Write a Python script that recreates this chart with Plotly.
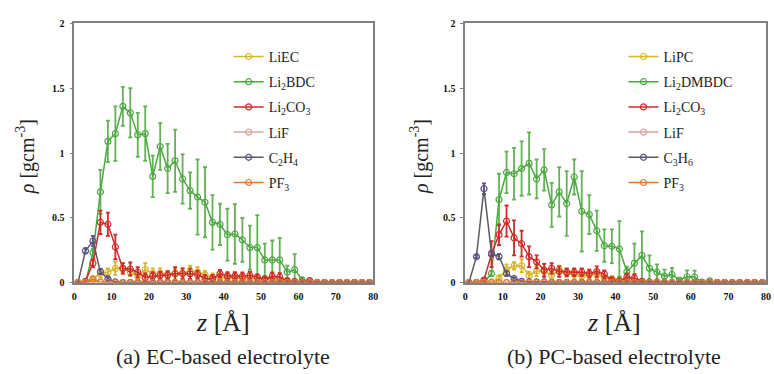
import plotly.graph_objects as go

z = list(range(1, 81, 2))

# ---- (a) EC-based electrolyte ----
LiEC_a = [0, 0.005, 0.03, 0.07, 0.08, 0.11, 0.11, 0.08, 0.05, 0.10, 0.07, 0.07, 0.06, 0.065, 0.07,
          0.09, 0.08, 0.06, 0.04, 0.04, 0.04, 0.04, 0.03, 0.035, 0.03, 0.03, 0.025, 0.02, 0.01, 0.01,
          0, 0, 0, 0, 0, 0, 0, 0, 0, 0]
LiEC_a_err = [0, 0, 0.01, 0.03, 0.03, 0.05, 0.04, 0.03, 0.03, 0.05, 0.04, 0.04, 0.03, 0.04, 0.04,
              0.04, 0.04, 0.03, 0.03, 0.03, 0.03, 0.03, 0.03, 0.03, 0.03, 0.02, 0.02, 0.02, 0.01, 0.01,
              0, 0, 0, 0, 0, 0, 0, 0, 0, 0]
Li2BDC_a = [0, 0, 0.23, 0.70, 1.09, 1.15, 1.36, 1.31, 1.14, 1.15, 0.82, 1.05, 0.88, 0.94, 0.80,
            0.71, 0.66, 0.62, 0.465, 0.45, 0.37, 0.375, 0.33, 0.27, 0.27, 0.175, 0.175, 0.175, 0.08, 0.10,
            0.02, 0, 0, 0, 0, 0, 0, 0, 0, 0]
Li2BDC_a_err = [0, 0, 0.03, 0.17, 0.16, 0.21, 0.15, 0.19, 0.17, 0.21, 0.16, 0.18, 0.19, 0.24, 0.19,
                0.14, 0.29, 0.27, 0.21, 0.16, 0.20, 0.23, 0.17, 0.17, 0.25, 0.125, 0.15, 0.17, 0.05, 0.12,
                0.02, 0, 0, 0, 0, 0, 0, 0, 0, 0]
Li2CO3_a = [0, 0.01, 0.15, 0.465, 0.45, 0.275, 0.11, 0.105, 0.08, 0.04, 0.05, 0.055, 0.058, 0.07, 0.07,
            0.068, 0.063, 0.03, 0.03, 0.068, 0.05, 0.05, 0.048, 0.055, 0.043, 0.025, 0.048, 0.043, 0.013, 0.008,
            0.005, 0.015, 0, 0, 0, 0, 0, 0, 0, 0]
Li2CO3_a_err = [0, 0.005, 0.03, 0.09, 0.09, 0.095, 0.04, 0.05, 0.04, 0.03, 0.03, 0.03, 0.03, 0.05, 0.04,
                0.04, 0.03, 0.03, 0.03, 0.03, 0.03, 0.03, 0.03, 0.03, 0.02, 0.02, 0.03, 0.03, 0.02, 0.01,
                0.01, 0.01, 0, 0, 0, 0, 0, 0, 0, 0]
LiF_a = [0, 0, 0.005] + [0] * 37
C2H4_a = [0, 0.245, 0.32, 0.085, 0.03, 0.005] + [0] * 34
C2H4_a_err = [0, 0.02, 0.04, 0.02, 0.01, 0] + [0] * 34
PF3_a = [0, 0, 0.025, 0.005] + [0] * 36

# ---- (b) PC-based electrolyte ----
LiPC_b = [0, 0, 0, 0.005, 0.035, 0.10, 0.13, 0.13, 0.055, 0.09, 0.09, 0.055, 0.10, 0.075, 0.065,
          0.05, 0.06, 0.065, 0.035, 0.03, 0.02, 0.02, 0.01, 0.01, 0, 0, 0, 0, 0, 0,
          0, 0, 0, 0, 0, 0, 0, 0, 0, 0]
LiPC_b_err = [0, 0, 0, 0, 0.02, 0.04, 0.03, 0.05, 0.03, 0.04, 0.03, 0.03, 0.03, 0.03, 0.03,
              0.03, 0.03, 0.03, 0.02, 0.02, 0.02, 0.02, 0.01, 0.01, 0, 0, 0, 0, 0, 0,
              0, 0, 0, 0, 0, 0, 0, 0, 0, 0]
Li2DMBDC_b = [0, 0, 0, 0.07, 0.64, 0.85, 0.84, 0.88, 0.92, 0.80, 0.87, 0.60, 0.70, 0.61, 0.815,
              0.55, 0.525, 0.40, 0.285, 0.28, 0.26, 0.083, 0.15, 0.21, 0.11, 0.08, 0.05, 0.063, 0.02, 0.045,
              0.043, 0.003, 0.013, 0, 0, 0, 0, 0, 0, 0]
Li2DMBDC_b_err = [0, 0, 0, 0.02, 0.20, 0.16, 0.20, 0.21, 0.24, 0.15, 0.16, 0.17, 0.19, 0.25, 0.135,
                  0.31, 0.15, 0.155, 0.125, 0.13, 0.215, 0.04, 0.15, 0.185, 0.10, 0.06, 0.05, 0.05, 0.01, 0.05,
                  0.05, 0, 0.01, 0, 0, 0, 0, 0, 0, 0]
Li2CO3_b = [0, 0, 0.02, 0.22, 0.37, 0.475, 0.345, 0.30, 0.20, 0.16, 0.095, 0.11, 0.085, 0.08, 0.08,
            0.08, 0.07, 0.085, 0.065, 0.02, 0.01, 0.04, 0.035, 0.01, 0.005, 0.005, 0, 0, 0, 0,
            0, 0, 0, 0, 0, 0, 0, 0, 0, 0]
Li2CO3_b_err = [0, 0, 0.01, 0.10, 0.08, 0.12, 0.135, 0.10, 0.08, 0.05, 0.05, 0.04, 0.04, 0.03, 0.03,
                0.03, 0.03, 0.04, 0.03, 0.02, 0.02, 0.03, 0.03, 0.01, 0, 0, 0, 0, 0, 0,
                0, 0, 0, 0, 0, 0, 0, 0, 0, 0]
LiF_b = [0] * 40
C3H6_b = [0, 0.20, 0.725, 0.225, 0.20, 0.07, 0.03, 0.01, 0.005, 0.005, 0.005] + [0] * 29
C3H6_b_err = [0, 0.01, 0.04, 0.02, 0.02, 0.02, 0.01] + [0] * 33
PF3_b = [0] * 40

x_ticks = [0, 10, 20, 30, 40, 50, 60, 70, 80]
y_ticks = [0, 0.5, 1, 1.5, 2]
y_ticklabels = ["0", "0.5", "1", "1.5", "2"]

YELLOW = "#d8b429"
GREEN = "#4aa83f"
GREEN_ERR = "rgba(70,165,55,0.85)"
RED = "#d02a2a"
PINK = "#d8a3a3"
PURPLE = "#5e4f8c"
GRAY = "#5a5a60"
ORANGE = "#e0782f"

SERIF = "Liberation Serif, Times New Roman, Times, serif"

fig = go.Figure()


def add(xa, ya, name, y, err, color, line_color=None, err_color=None, legend="legend", group=""):
    fig.add_trace(go.Scatter(
        x=z, y=y, name=name, mode="lines+markers",
        xaxis=xa, yaxis=ya, legend=legend, legendgroup=group,
        line=dict(color=line_color or color, width=1.5),
        marker=dict(symbol="circle-open", size=6, color=color, line=dict(width=1.2)),
        error_y=(dict(type="data", array=err, visible=True, color=err_color or color,
                      thickness=1.8, width=2) if err is not None else None),
    ))


add("x", "y", "LiEC", LiEC_a, LiEC_a_err, YELLOW, group="a1")
add("x", "y", "Li<sub>2</sub>BDC", Li2BDC_a, Li2BDC_a_err, GREEN, err_color=GREEN_ERR, group="a2")
add("x", "y", "Li<sub>2</sub>CO<sub>3</sub>", Li2CO3_a, Li2CO3_a_err, RED, group="a3")
add("x", "y", "LiF", LiF_a, None, PINK, group="a4")
add("x", "y", "C<sub>2</sub>H<sub>4</sub>", C2H4_a, C2H4_a_err, PURPLE, line_color=GRAY, group="a5")
add("x", "y", "PF<sub>3</sub>", PF3_a, None, ORANGE, group="a6")

add("x2", "y2", "LiPC", LiPC_b, LiPC_b_err, YELLOW, legend="legend2", group="b1")
add("x2", "y2", "Li<sub>2</sub>DMBDC", Li2DMBDC_b, Li2DMBDC_b_err, GREEN, err_color=GREEN_ERR,
    legend="legend2", group="b2")
add("x2", "y2", "Li<sub>2</sub>CO<sub>3</sub>", Li2CO3_b, Li2CO3_b_err, RED, legend="legend2", group="b3")
add("x2", "y2", "LiF", LiF_b, None, PINK, legend="legend2", group="b4")
add("x2", "y2", "C<sub>3</sub>H<sub>6</sub>", C3H6_b, C3H6_b_err, PURPLE, line_color=GRAY,
    legend="legend2", group="b5")
add("x2", "y2", "PF<sub>3</sub>", PF3_b, None, ORANGE, legend="legend2", group="b6")

W, H = 774, 374
tickfont = dict(family=SERIF, size=10, color="#111", weight="bold")
axis_common = dict(showgrid=False, zeroline=False, showline=True, mirror=True,
                   linecolor="#808080", linewidth=1.5, tickfont=tickfont)

xd1 = [72 / W, 374 / W]
xd2 = [467 / W, 771 / W]
yd = [(H - 286) / H, (H - 19) / H]

legend_common = dict(font=dict(family=SERIF, size=14, color="#222"), bgcolor="rgba(0,0,0,0)",
                     traceorder="grouped", tracegroupgap=4, yanchor="top", xanchor="left",
                     itemwidth=30)

fig.update_layout(
    width=W, height=H, margin=dict(l=0, r=0, t=0, b=0),
    paper_bgcolor="white", plot_bgcolor="white",
    font=dict(family=SERIF),
    xaxis=dict(domain=xd1, range=[0, 80], tickvals=x_ticks, ticks="", anchor="y",
               ticklabelstandoff=4, **axis_common),
    yaxis=dict(domain=yd, range=[0, 2], tickvals=y_ticks, ticktext=y_ticklabels, ticks="outside",
               ticklen=3, tickcolor="#808080", anchor="x", ticklabelstandoff=3, **axis_common),
    xaxis2=dict(domain=xd2, range=[0, 80], tickvals=x_ticks, ticks="", anchor="y2",
                ticklabelstandoff=4, **axis_common),
    yaxis2=dict(domain=yd, range=[0, 2], tickvals=y_ticks, ticktext=y_ticklabels, ticks="outside",
                ticklen=3, tickcolor="#808080", anchor="x2", ticklabelstandoff=3, **axis_common),
    legend=dict(x=228 / W, y=1 - 37 / H, **legend_common),
    legend2=dict(x=627 / W, y=1 - 37 / H, **legend_common),
    showlegend=True,
)

title_font = dict(family=SERIF, size=26, color="#222")
ytitle_font = dict(family=SERIF, size=20, color="#222")
cap_font = dict(family=SERIF, size=22, color="#222")
ann = []
for cx, ycx, cap in [(222, 23, "(a) EC-based electrolyte"), (617, 421, "(b) PC-based electrolyte")]:
    ann.append(dict(x=cx / W, y=1 - 327 / H, xref="paper", yref="paper", showarrow=False,
                    text="<i>z</i> [Å]", font=title_font, xanchor="center", yanchor="middle"))
    ann.append(dict(x=cx / W, y=1 - 362 / H, xref="paper", yref="paper", showarrow=False,
                    text=cap, font=cap_font, xanchor="center", yanchor="middle"))
    ann.append(dict(x=ycx / W, y=1 - 156 / H, xref="paper", yref="paper", showarrow=False,
                    text="<i>ρ</i> [gcm<sup>-3</sup>]", font=ytitle_font, textangle=-90,
                    xanchor="center", yanchor="middle"))
fig.update_layout(annotations=ann)

fig.write_html("out.html")
